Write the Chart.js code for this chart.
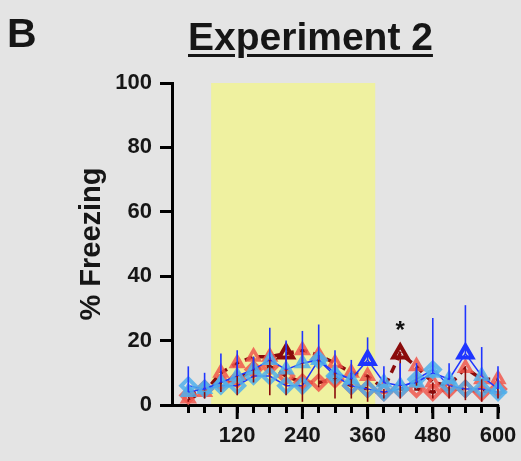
<!DOCTYPE html>
<html lang="en">
<head>
    <meta charset="UTF-8">
    <title>Experiment 2</title>
    <script src="https://cdn.jsdelivr.net/npm/chart.js"></script>
    <style>
        body { margin: 0; background: #e4e4e4; font-family: "Liberation Sans", Arial, sans-serif; color: #161616; }
        #wrap { position: relative; width: 521px; height: 461px; }
        #panel { position: absolute; left: 7px; top: 12px; font-size: 41px; line-height: 42px; font-weight: bold; }
        #title { position: absolute; left: 188px; top: 17px; font-size: 39px; line-height: 39px; font-weight: bold;
                 text-decoration: underline; text-decoration-thickness: 3px; text-underline-offset: 4px; white-space: nowrap; }
        canvas { position: absolute; left: 0; top: 0; }
    </style>
</head>
<body>
    <div id="wrap">
        <canvas id="freezeChart" width="521" height="461"></canvas>
        <div id="panel">B</div>
        <div id="title">Experiment 2</div>
    </div>

    <script>
        // time bins (s)
        var times = [30, 60, 90, 120, 150, 180, 210, 240, 270, 300, 330, 360, 390, 420, 450, 480, 510, 540, 570, 600];
        var xTickLabels = [120, 240, 360, 480, 600];
        var yTicks = [0, 20, 40, 60, 80, 100];

        // tone period (shaded)
        var toneStart = 72;
        var toneEnd = 374;

        // % freezing per group
        var redTri  = [2, 4, 10, 13, 15, 15, 16, 17, 15.5, 13, 10, 9, 5, 16, 12, 7, 6, 11.5, 8, 8];
        var redDia  = [3, 5, 7, 8, 11, 12, 9, 7, 7, 8, 6, 5, 4, 5, 5, 4, 5, 5, 4, 5];
        var blueTri = [4, 5, 7, 9, 11, 14, 11, 13, 14, 10, 8, 14, 7, 6, 7, 10, 8, 16, 9, 5];
        var blueDia = [6, 5, 6, 6, 9, 9, 6, 6, 14, 9, 6, 5, 4, 5, 8, 11, 6, 5, 5, 4];

        // SEM (red drawn down, blue drawn up)
        var redTriErr  = [1, 2, 6, 10, 8, 12, 13, 16, 10, 11, 8, 8, 3, 14, 6, 5, 4, 10, 7, 6];
        var blueTriErr = [8, 5, 9, 8, 4, 10, 9, 10, 11, 7, 6, 7, 5, 7, 6, 17, 5, 15, 9, 7];

        // highlighted points and significance marks
        var redBold = [210, 420];
        var blueBold = [360, 540];
        var starTimes = [420];
        var starLevel = 24;

        var darkRed = '#8a0b0b';
        var salmon = 'rgba(240, 88, 78, 0.85)';
        var blue = '#1f35ff';
        var lightBlue = 'rgba(80, 175, 235, 0.85)';

        function pts(vals) {
            return times.map(function (t, i) { return { x: t, y: vals[i] }; });
        }

        var toneBox = {
            id: 'toneBox',
            beforeDraw: function (chart) {
                var ctx = chart.ctx, x = chart.scales.x, y = chart.scales.y;
                ctx.save();
                ctx.fillStyle = '#eff1a0';
                var x0 = x.getPixelForValue(toneStart), x1 = x.getPixelForValue(toneEnd);
                var y0 = y.getPixelForValue(100), y1 = y.getPixelForValue(0);
                ctx.fillRect(x0, y0, x1 - x0, y1 - y0);
                ctx.restore();
            }
        };

        var extras = {
            id: 'extras',
            afterDatasetsDraw: function (chart) {
                var ctx = chart.ctx, x = chart.scales.x, y = chart.scales.y;
                ctx.save();
                ctx.lineWidth = 1.6;
                ctx.strokeStyle = darkRed;
                times.forEach(function (t, i) {
                    var px = x.getPixelForValue(t);
                    ctx.beginPath();
                    ctx.moveTo(px, y.getPixelForValue(redTri[i]));
                    ctx.lineTo(px, y.getPixelForValue(Math.max(0, redTri[i] - redTriErr[i])));
                    ctx.stroke();
                });
                ctx.strokeStyle = blue;
                times.forEach(function (t, i) {
                    var px = x.getPixelForValue(t);
                    ctx.beginPath();
                    ctx.moveTo(px, y.getPixelForValue(blueTri[i]));
                    ctx.lineTo(px, y.getPixelForValue(blueTri[i] + blueTriErr[i]));
                    ctx.stroke();
                });
                // significance
                ctx.fillStyle = '#111';
                ctx.font = 'bold 24px "Liberation Sans", Arial, sans-serif';
                ctx.textAlign = 'center';
                ctx.textBaseline = 'middle';
                starTimes.forEach(function (t) {
                    ctx.fillText('*', x.getPixelForValue(t), y.getPixelForValue(starLevel) + 4);
                });
                ctx.restore();
            },
            afterDraw: function (chart) {
                // longer ticks at labelled positions
                var ctx = chart.ctx, x = chart.scales.x;
                ctx.save();
                ctx.strokeStyle = '#000';
                ctx.lineWidth = 3;
                xTickLabels.forEach(function (t) {
                    var px = x.getPixelForValue(t);
                    ctx.beginPath();
                    ctx.moveTo(px, x.top);
                    ctx.lineTo(px, x.top + 14);
                    ctx.stroke();
                });
                ctx.restore();
            }
        };

        var ctx = document.getElementById('freezeChart').getContext('2d');
        var tickFont = { family: '"Liberation Sans", Arial, sans-serif', size: 22, weight: 'bold' };

        new Chart(ctx, {
            type: 'line',
            data: {
                datasets: [{
                    label: 'Blue triangles',
                    data: pts(blueTri),
                    order: 1,
                    borderColor: blue,
                    borderWidth: 1.5,
                    pointStyle: 'triangle',
                    pointRadius: function (c) { return blueBold.indexOf(times[c.dataIndex]) >= 0 ? 8 : 6.5; },
                    pointBorderWidth: function (c) { return blueBold.indexOf(times[c.dataIndex]) >= 0 ? 4 : 3.5; },
                    pointBorderColor: function (c) { return blueBold.indexOf(times[c.dataIndex]) >= 0 ? blue : lightBlue; },
                    pointBackgroundColor: 'rgba(0,0,0,0)',
                    tension: 0,
                    clip: false
                }, {
                    label: 'Blue diamonds',
                    data: pts(blueDia),
                    order: 2,
                    borderColor: blue,
                    borderWidth: 1.5,
                    pointStyle: 'rectRot',
                    pointRadius: 7,
                    pointBorderWidth: 4,
                    pointBorderColor: lightBlue,
                    pointBackgroundColor: 'rgba(0,0,0,0)',
                    tension: 0,
                    clip: false
                }, {
                    label: 'Red triangles',
                    data: pts(redTri),
                    order: 3,
                    borderColor: darkRed,
                    borderWidth: 3.5,
                    borderDash: [8, 6],
                    pointStyle: 'triangle',
                    pointRadius: function (c) { return redBold.indexOf(times[c.dataIndex]) >= 0 ? 8 : 6.5; },
                    pointBorderWidth: function (c) { return redBold.indexOf(times[c.dataIndex]) >= 0 ? 4 : 3.5; },
                    pointBorderColor: function (c) { return redBold.indexOf(times[c.dataIndex]) >= 0 ? darkRed : salmon; },
                    pointBackgroundColor: 'rgba(0,0,0,0)',
                    tension: 0,
                    clip: false
                }, {
                    label: 'Red diamonds',
                    data: pts(redDia),
                    order: 4,
                    borderColor: darkRed,
                    borderWidth: 3.5,
                    borderDash: [8, 6],
                    pointStyle: 'rectRot',
                    pointRadius: 7,
                    pointBorderWidth: 4,
                    pointBorderColor: salmon,
                    pointBackgroundColor: 'rgba(0,0,0,0)',
                    tension: 0,
                    clip: false
                }]
            },
            options: {
                responsive: false,
                animation: false,
                layout: { padding: { left: 70, right: 23, top: 83, bottom: 0 } },
                plugins: { legend: { display: false }, tooltip: { enabled: false } },
                scales: {
                    x: {
                        type: 'linear',
                        min: 0,
                        max: 600,
                        afterFit: function (s) { s.height = 56; s.paddingRight = 0; s.paddingLeft = 0; },
                        afterBuildTicks: function (s) { s.ticks = times.map(function (t) { return { value: t }; }); },
                        ticks: {
                            autoSkip: false,
                            maxRotation: 0,
                            padding: 10,
                            color: '#161616',
                            font: tickFont,
                            callback: function (v) { return xTickLabels.indexOf(v) >= 0 ? String(v) : ''; }
                        },
                        grid: { drawOnChartArea: false, tickLength: 8, tickWidth: 3, tickColor: '#000' },
                        border: { color: '#000', width: 3 }
                    },
                    y: {
                        min: 0,
                        max: 100,
                        afterFit: function (s) { s.width = 102; },
                        afterBuildTicks: function (s) { s.ticks = yTicks.map(function (v) { return { value: v }; }); },
                        ticks: { padding: 8, color: '#161616', font: tickFont },
                        grid: { drawOnChartArea: false, tickLength: 12, tickWidth: 3, tickColor: '#000' },
                        border: { color: '#000', width: 3 },
                        title: {
                            display: true,
                            text: '% Freezing',
                            color: '#161616',
                            padding: { top: 5, bottom: 0 },
                            font: { family: '"Liberation Sans", Arial, sans-serif', size: 29, weight: 'bold' }
                        }
                    }
                }
            },
            plugins: [toneBox, extras]
        });
    </script>
</body>
</html>
